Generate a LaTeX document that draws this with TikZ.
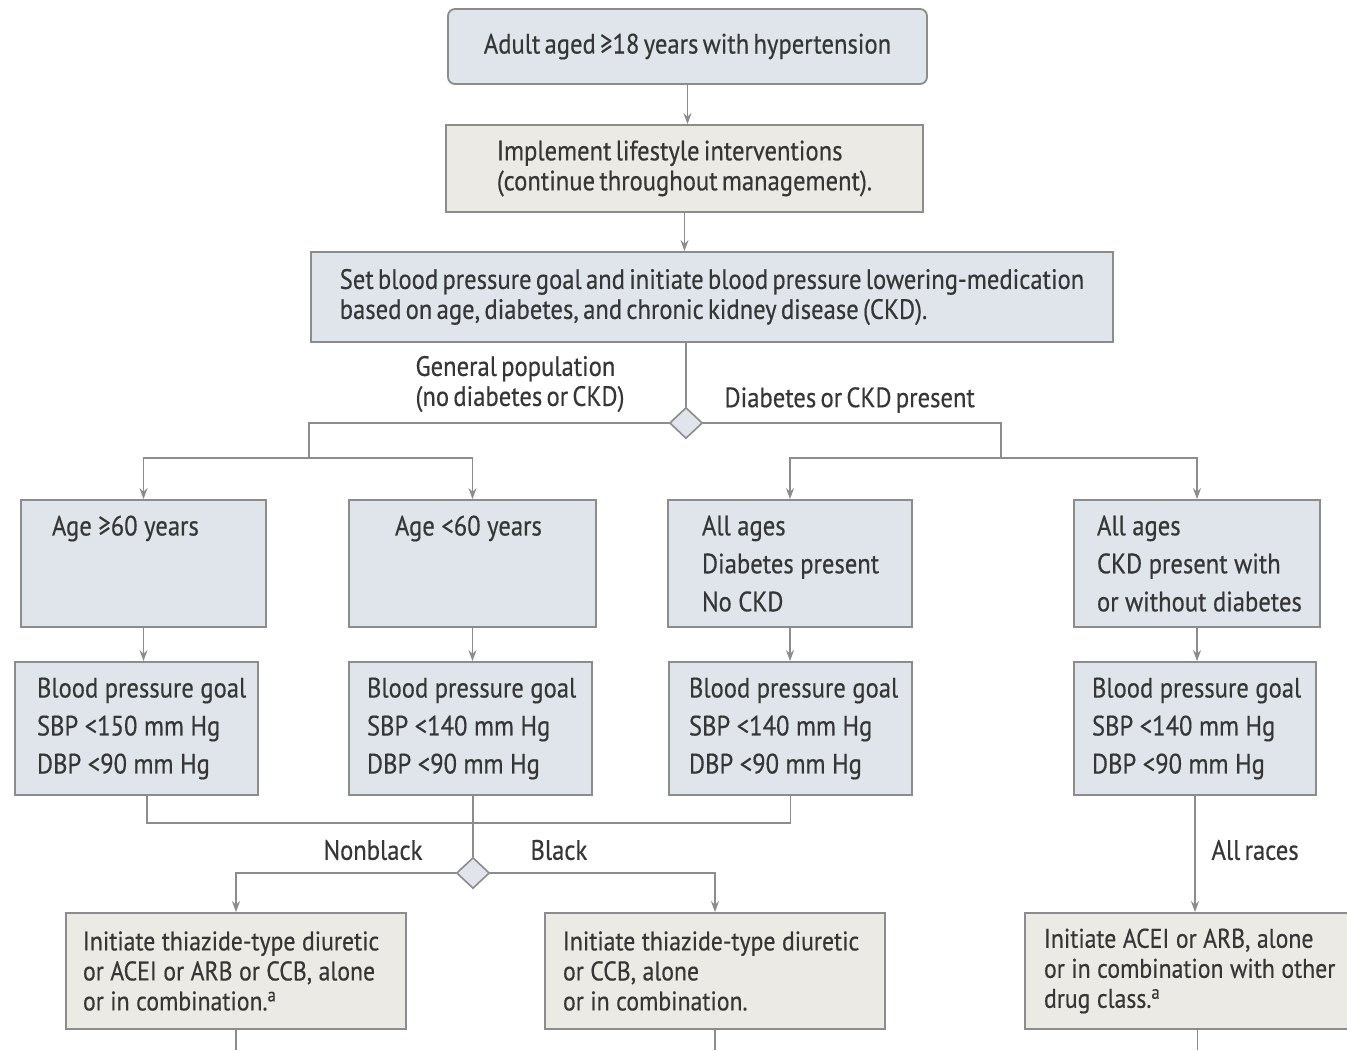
\documentclass[tikz,border=0pt]{standalone}
\usepackage{fontspec}
\setmainfont[FakeStretch=0.88,WordSpace=0.65,FakeBold=0.4]{PT Sans}
\usetikzlibrary{shapes.geometric,arrows.meta}
\definecolor{boxblue}{HTML}{DFE5EA}
\definecolor{boxbeige}{HTML}{ECEAE4}
\definecolor{edge}{HTML}{8C8C8C}
\definecolor{ink}{HTML}{363636}

\begin{document}
\begin{tikzpicture}[x=1pt,y=-1pt,
    font=\fontsize{28}{30}\selectfont,text=ink,
    bluebox/.style={draw=edge,fill=boxblue,line width=1.8pt,inner ysep=0pt,minimum height=#1,align=left},
    beigebox/.style={bluebox=#1,fill=boxbeige},
    boxw/.style 2 args={minimum width=#1,text width=#1,inner xsep=0pt,
        execute at begin node={\leftskip=#2pt\rightskip=-30pt plus 1fil\hyphenpenalty=10000
            \spaceskip=6.5pt\xspaceskip=6.5pt}},
    tall/.style={font=\fontsize{28}{38}\selectfont},
    drug/.style={font=\fontsize{27}{30}\selectfont},
    line/.style={draw=edge,line width=1.6pt},
    arr/.style={line,-{Stealth[length=11pt,width=8pt]}},
    check/.style={diamond,draw=edge,fill=boxblue,line width=1.6pt,minimum width=33pt,minimum height=31pt,inner sep=0pt}]
       \useasboundingbox(0,0)rectangle(1347,1050);
       \clip(0,0)rectangle(1347,1050);
       \fill[white](0,0)rectangle(1347,1050);%背景

       \node[bluebox=75,minimum width=479pt,rounded corners=7pt](adult)at(687.5,46.5)
           {Adult aged ≥18 years with hypertension};
       \node[beigebox=87,minimum width=477pt](life)at(684.5,168.5)
           {Implement lifestyle interventions\\(continue throughout management).};
       \node[bluebox=90,minimum width=802pt](setgoal)at(712,297)
           {Set blood pressure goal and initiate blood pressure lowering-medication\\
            based on age, diabetes, and chronic kidney disease (CKD).};
       \node[check](split)at(686,423){};%分岐1
       \node[anchor=west,align=left](genpop)at(412,384){General population\\(no diabetes or CKD)};
       \node[anchor=west](dmckd)at(721,400){Diabetes or CKD present};

       % 年齢・合併症
       \node[bluebox=127,tall,boxw={245}{31}](old)at(143.5,563.5){Age ≥60 years\\~\\~};
       \node[bluebox=127,tall,boxw={247}{46}](young)at(472.5,563.5){Age <60 years\\~\\~};
       \node[bluebox=127,tall,boxw={244}{34}](dm)at(790,563.5){All ages\\Diabetes present\\No CKD};
       \node[bluebox=127,tall,boxw={246}{23}](ckd)at(1197,563.5){All ages\\CKD present with\\or without diabetes};

       % 降圧目標
       \node[bluebox=133,tall,boxw={243}{22}](oldgoal)at(136.5,728.5)
           {Blood pressure goal\\SBP <150 mm Hg\\DBP <90 mm Hg};
       \node[bluebox=133,tall,boxw={243}{18}](younggoal)at(470.5,728.5)
           {Blood pressure goal\\SBP <140 mm Hg\\DBP <90 mm Hg};
       \node[bluebox=133,tall,boxw={243}{20}](dmgoal)at(790.5,728.5)
           {Blood pressure goal\\SBP <140 mm Hg\\DBP <90 mm Hg};
       \node[bluebox=133,tall,boxw={242}{18}](ckdgoal)at(1195,728.5)
           {Blood pressure goal\\SBP <140 mm Hg\\DBP <90 mm Hg};

       \node[check](race)at(473,873){};%分岐2
       \node[anchor=west](nonblack)at(320,850){Nonblack};
       \node[anchor=west](black)at(527,850){Black};
       \node[anchor=west](allraces)at(1208,850){All races};

       % 薬物治療
       \node[beigebox=116,drug,boxw={340}{17}](nbdrug)at(236,971)
           {Initiate thiazide-type diuretic\\or ACEI or ARB or CCB, alone\\or in combination.\textsuperscript{a}};
       \node[beigebox=116,drug,boxw={340}{18}](bdrug)at(715,971)
           {Initiate thiazide-type diuretic\\or CCB, alone\\or in combination.};
       \node[beigebox=116,drug,boxw={345}{19}](ckddrug)at(1197.5,971)
           {Initiate ACEI or ARB, alone\\or in combination with other\\drug class.\textsuperscript{a}};

       \coordinate(gpj)at(309,458);%一般集団の分岐点
       \coordinate(dmj)at(1001,458);%糖尿病・CKDの分岐点
       \coordinate(racej)at(473,823);%合流点
       \coordinate(bot)at(0,1050);%下端

       \draw[arr](adult.south)--(adult.south|-life.north);
       \draw[arr](life.south)--(life.south|-setgoal.north);
       \draw[line](split.north)--(split.north|-setgoal.south);
       \draw[line](split.west)-|(gpj);
       \draw[line](split.east)-|(dmj);
       \draw[arr](gpj)-|(old.north);
       \draw[arr](gpj)-|(young.north);
       \draw[arr](dmj)-|(dm.north);
       \draw[arr](dmj)-|(ckd.north);

       \foreach \a/\b in{old/oldgoal,young/younggoal,dm/dmgoal,ckd/ckdgoal}
           \draw[arr](\a.south)--(\a.south|-\b.north);%目標へ

       \draw[line]([xshift=10.5pt]oldgoal.south)|-(racej);
       \draw[line](dmgoal.south)|-(racej);
       \draw[line](race.north|-younggoal.south)--(race.north);
       \draw[arr](race.west)-|(nbdrug.north);
       \draw[arr](race.east)-|(bdrug.north);
       \draw[arr](ckdgoal.south)--(ckdgoal.south|-ckddrug.north);

       \foreach \d in{nbdrug,bdrug,ckddrug}
           \draw[line](\d.south)--(\d.south|-bot);%下へ続く
\end{tikzpicture}
\end{document}
